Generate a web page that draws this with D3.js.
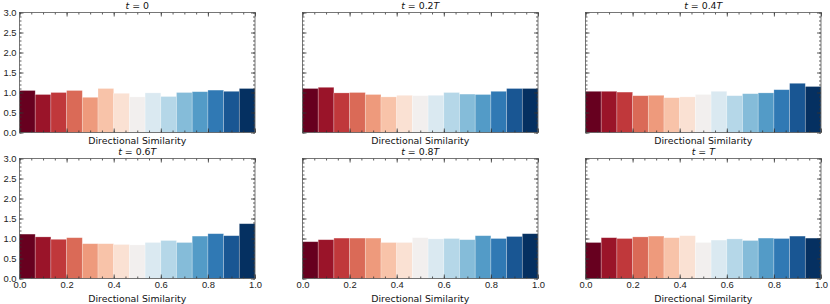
<!DOCTYPE html>
<html>
<head>
<meta charset="utf-8">
<script src="https://cdn.jsdelivr.net/npm/d3@7"></script>
<style>
  body { margin: 0; background: white; }
  svg { font-family: "DejaVu Sans", sans-serif; }
  .axis text { font-size: 9.4px; fill: #222; }
  .axis line { stroke: #333; stroke-width: 0.8; }
</style>
</head>
<body>
<div id="vis"></div>
<script>
// histogram values per panel (15 bins between 0 and 1)
var titles = ["0", "0.2", "0.4", "0.6", "0.8", ""];
var binEdges = d3.range(16).map(function(i) { return i / 15; });
var h0  = [1.05, 0.95, 1.00, 1.05, 0.88, 1.10, 0.98, 0.89, 0.99, 0.90, 1.00, 1.02, 1.06, 1.03, 1.10];
var h02 = [1.10, 1.13, 0.99, 1.00, 0.95, 0.89, 0.93, 0.92, 0.93, 1.00, 0.96, 0.95, 1.03, 1.10, 1.10];
var h04 = [1.03, 1.03, 1.01, 0.92, 0.93, 0.87, 0.89, 0.95, 1.03, 0.92, 0.97, 0.99, 1.07, 1.23, 1.15];
var h06 = [1.11, 1.04, 0.98, 1.02, 0.87, 0.87, 0.85, 0.84, 0.90, 0.95, 0.90, 1.06, 1.12, 1.07, 1.37];
var h08 = [0.92, 0.97, 1.01, 1.01, 1.01, 0.90, 0.90, 1.02, 0.99, 1.00, 0.97, 1.07, 1.00, 1.05, 1.12];
var h1  = [0.90, 1.02, 1.00, 1.04, 1.06, 1.02, 1.07, 0.90, 0.96, 0.99, 0.95, 1.01, 1.00, 1.06, 1.01];
var panels = [h0, h02, h04, h06, h08, h1];
var xTicks = [0, 0.2, 0.4, 0.6, 0.8, 1.0];
var yTicks = [0, 0.5, 1.0, 1.5, 2.0, 2.5, 3.0];

var svgWidth = 830, svgHeight = 304;
var svg = d3.select('#vis').append('svg')
  .attr('width', svgWidth)
  .attr('height', svgHeight);

// panel layout
var colLeft = [19.5, 302.5, 585.5],
    rowTop = [12.5, 158.5],
    pw = 235.5,
    ph = 120;

var xScale = d3.scaleLinear().domain([0, 1]).range([0, pw]);
var yScale = d3.scaleLinear().domain([0, 3]).range([ph, 0]);
var color = function(i) { return d3.interpolateRdBu(i / 14); };

panels.forEach(function(vals, p) {
  var col = p % 3, row = Math.floor(p / 3);
  var g = svg.append('g')
    .attr('transform', 'translate(' + colLeft[col] + ',' + rowTop[row] + ')');

  // bars
  g.selectAll('.bar')
    .data(vals)
    .enter().append('rect')
    .attr('class', 'bar')
    .attr('x', function(d, i) { return xScale(binEdges[i]); })
    .attr('width', function(d, i) { return xScale(binEdges[i + 1]) - xScale(binEdges[i]); })
    .attr('y', function(d) { return yScale(d); })
    .attr('height', function(d) { return yScale(0) - yScale(d); })
    .attr('fill', function(d, i) { return color(i); })
    .attr('stroke', 'white')
    .attr('stroke-opacity', 0.35)
    .attr('stroke-width', 0.7);

  var showX = row == 1, showY = col == 0;

  // major + minor ticks, inward on every side
  var xMinor = d3.range(0, 1.0001, 0.05), yMinor = d3.range(0, 3.0001, 0.1);
  g.append('g').attr('class', 'axis')
    .attr('transform', 'translate(0,' + ph + ')')
    .call(d3.axisBottom(xScale).tickValues(xMinor).tickSize(-2).tickFormat(''));
  g.append('g').attr('class', 'axis')
    .attr('transform', 'translate(0,' + ph + ')')
    .call(d3.axisBottom(xScale).tickValues(xTicks).tickSize(-4).tickPadding(3)
      .tickFormat(showX ? d3.format('.1f') : ''));
  g.append('g').attr('class', 'axis')
    .call(d3.axisTop(xScale).tickValues(xMinor).tickSize(-2).tickFormat(''));
  g.append('g').attr('class', 'axis')
    .call(d3.axisTop(xScale).tickValues(xTicks).tickSize(-4).tickFormat(''));
  g.append('g').attr('class', 'axis')
    .call(d3.axisLeft(yScale).tickValues(yMinor).tickSize(-2).tickFormat(''));
  g.append('g').attr('class', 'axis')
    .call(d3.axisLeft(yScale).tickValues(yTicks).tickSize(-4).tickPadding(3)
      .tickFormat(showY ? d3.format('.1f') : ''));
  g.append('g').attr('class', 'axis')
    .attr('transform', 'translate(' + pw + ',0)')
    .call(d3.axisRight(yScale).tickValues(yMinor).tickSize(-2).tickFormat(''));
  g.append('g').attr('class', 'axis')
    .attr('transform', 'translate(' + pw + ',0)')
    .call(d3.axisRight(yScale).tickValues(yTicks).tickSize(-4).tickFormat(''));
  g.selectAll('.domain').remove();

  // frame
  g.append('rect')
    .attr('width', pw).attr('height', ph)
    .attr('fill', 'none')
    .attr('stroke', '#555')
    .attr('stroke-width', 0.8);

  // title
  var t = g.append('text')
    .attr('x', pw / 2).attr('y', -3.5)
    .attr('text-anchor', 'middle')
    .style('font-size', '9.4px')
    .attr('fill', '#111');
  t.append('tspan').style('font-style', 'italic').text('t');
  t.append('tspan').text(' = ' + titles[p]);
  t.append('tspan').style('font-style', 'italic').text(titles[p] == '0' ? '' : 'T');

  // x label
  g.append('text')
    .attr('x', pw / 2)
    .attr('y', showX ? ph + 23 : ph + 11)
    .attr('text-anchor', 'middle')
    .style('font-size', '9.4px')
    .attr('fill', '#111')
    .text('Directional Similarity');
});
</script>
</body>
</html>
